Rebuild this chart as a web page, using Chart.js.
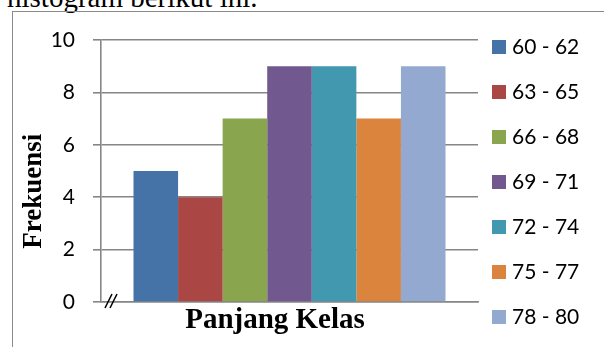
<!DOCTYPE html>
<html lang="id">
<head>
    <meta charset="UTF-8">
    <title>Histogram Panjang Kelas</title>
    <script src="https://cdn.jsdelivr.net/npm/chart.js@4.4.1/dist/chart.umd.min.js"></script>
    <style>
        body {
            margin: 0;
            width: 604px;
            height: 347px;
            overflow: hidden;
            background: #ffffff;
            position: relative;
        }
        .caption {
            position: absolute;
            left: 7px;
            top: -17px;
            font-family: 'Liberation Serif', serif;
            font-size: 29px;
            line-height: 29px;
            color: #000;
            white-space: nowrap;
        }
        .frame {
            position: absolute;
            left: 12px;
            top: 11px;
            width: 600px;
            height: 345px;
            border-left: 1px solid #8a8a8a;
            border-top: 1px solid #8a8a8a;
        }
        .chart-box {
            position: absolute;
            left: 0;
            top: 0;
            width: 604px;
            height: 347px;
        }
    </style>
</head>
<body>
    <div class="caption">histogram berikut ini.</div>
    <div class="frame"></div>
    <div class="chart-box"><canvas id="chart"></canvas></div>

    <script>
        // data
        const classes = ['60 - 62', '63 - 65', '66 - 68', '69 - 71', '72 - 74', '75 - 77', '78 - 80'];
        const frequencies = [5, 4, 7, 9, 9, 7, 9];
        const yTicks = [0, 2, 4, 6, 8, 10];
        const barColors = ['#4572A7', '#AA4643', '#89A54E', '#71588F', '#4198AF', '#DB843D', '#93A9CF'];

        const GRID = '#868686';
        const LABEL_FONT = 'Lato, "Open Sans", sans-serif';
        const SERIF = '"Liberation Serif", "Times New Roman", serif';

        // legend on the right, one row per class
        const sideLegend = {
            id: 'sideLegend',
            afterDraw(chart) {
                const { ctx, chartArea } = chart;
                ctx.save();
                ctx.font = '21px ' + LABEL_FONT;
                ctx.textBaseline = 'middle';
                ctx.textAlign = 'left';
                chart.data.datasets.forEach((ds, i) => {
                    const y = 47 + i * 45;
                    ctx.fillStyle = ds.backgroundColor;
                    ctx.fillRect(chartArea.right + 14, y - 7, 14, 14);
                    ctx.fillStyle = '#000';
                    ctx.fillText(ds.label, chartArea.right + 34, y);
                });
                ctx.restore();
            }
        };

        // the "//" axis break next to the origin
        const axisBreak = {
            id: 'axisBreak',
            afterDraw(chart) {
                const { ctx, chartArea, scales } = chart;
                const x0 = chartArea.left;
                const y0 = scales.y.getPixelForValue(0);
                ctx.save();
                ctx.strokeStyle = '#000';
                ctx.lineWidth = 1.6;
                [4, 9].forEach(dx => {
                    ctx.beginPath();
                    ctx.moveTo(x0 + dx, y0 + 6);
                    ctx.lineTo(x0 + dx + 7, y0 - 8);
                    ctx.stroke();
                });
                ctx.restore();
            }
        };

        const datasets = classes.map((name, i) => ({
            label: name,
            data: [frequencies[i]],
            backgroundColor: barColors[i],
            borderWidth: 0
        }));

        new Chart(document.getElementById('chart'), {
            type: 'bar',
            data: { labels: [''], datasets },
            options: {
                responsive: true,
                maintainAspectRatio: false,
                animation: false,
                categoryPercentage: 0.8276,
                barPercentage: 1,
                layout: { padding: { left: 18, right: 126, top: 40, bottom: 0 } },
                plugins: {
                    legend: { display: false },
                    tooltip: { enabled: false }
                },
                scales: {
                    x: {
                        grid: { display: false, drawTicks: false },
                        border: { color: GRID, width: 1.6 },
                        ticks: { display: false },
                        title: {
                            display: true,
                            text: 'Panjang Kelas\u00a0\u00a0\u00a0\u00a0',
                            color: '#000',
                            font: { family: SERIF, size: 29, weight: 'bold', lineHeight: 1.2 },
                            padding: { top: 1.6, bottom: 8.6 }
                        }
                    },
                    y: {
                        min: yTicks[0],
                        max: yTicks[yTicks.length - 1],
                        afterFit(scale) { scale.width = 83; },
                        afterBuildTicks(scale) {
                            scale.ticks = yTicks.map(v => ({ value: v }));
                        },
                        grid: { color: GRID, lineWidth: 1.6, tickLength: 8 },
                        border: { color: GRID, width: 1.6 },
                        ticks: {
                            color: '#000',
                            padding: 18,
                            font: { family: LABEL_FONT, size: 21 }
                        },
                        title: {
                            display: true,
                            text: 'Frekuensi\u00a0\u00a0\u00a0\u00a0\u00a0\u00a0',
                            color: '#000',
                            font: { family: SERIF, size: 27, weight: 'bold', lineHeight: 1.2 },
                            padding: { top: 0, bottom: 0 }
                        }
                    }
                }
            },
            plugins: [sideLegend, axisBreak]
        });
    </script>
</body>
</html>
